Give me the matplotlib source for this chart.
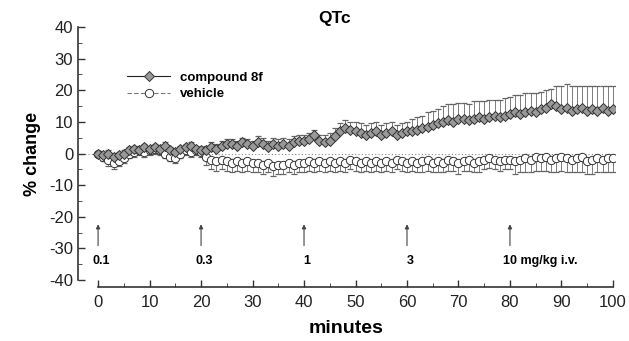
import numpy as np
import matplotlib.pyplot as plt

plt.rcParams['font.family'] = ['Liberation Sans', 'DejaVu Sans']
plt.rcParams['axes.unicode_minus'] = False

minutes = np.arange(0, 101)

# % change QTc, compound 8f (mean, upper SEM)
compound = [0,
            -0.5, 0, -1, -0.5, 0,
            1, 1.5, 1, 2, 1.5,
            2, 1.5, 2.5, 1, 0.5,
            1.5, 2, 2.5, 1.5, 1,
            1, 2, 1.5, 2.5, 3,
            3, 2.5, 3.5, 3, 2.5,
            3.5, 3, 2, 3, 2.5,
            3, 2.5, 3.5, 4, 4,
            4.5, 6, 4, 3.5, 4,
            5.5, 7, 8, 7.5, 7,
            6.5, 6, 6.5, 7, 6,
            6.5, 7, 6, 6.5, 7,
            7, 7.5, 8, 8.5, 9,
            9.5, 10, 10.5, 10, 11,
            11, 10.5, 11, 11.5, 11,
            11.5, 12, 11.5, 12, 12.5,
            13, 12.5, 13, 13.5, 13,
            14, 14.5, 15.5, 15, 14,
            14.5, 13.5, 14, 14.5, 13.5,
            14, 13.5, 14.5, 13.5, 14]
compound_sem = [0.5,
                1, 1, 1, 1, 1,
                1, 1, 1, 1, 1,
                1, 1, 1, 1, 1,
                1, 1, 1, 1, 1,
                1.5, 1.5, 1.5, 1.5, 1.5,
                1.5, 1.5, 1.5, 1.5, 1.5,
                2, 2, 2, 2, 2,
                2, 2, 2, 2, 2,
                2, 1.5, 2, 2.5, 2.5,
                2.5, 2.5, 2.5, 2.5, 3,
                3, 3, 3, 3, 3,
                3, 3, 3, 3, 3,
                4, 4, 4, 4.5, 4.5,
                4.5, 5, 5, 5.5, 5,
                5, 5, 5.5, 5, 5.5,
                5.5, 5, 5.5, 5.5, 5.5,
                5.5, 6, 6, 5.5, 6,
                5.5, 5.5, 5, 6.5, 7.5,
                7.5, 8, 7.5, 7, 8,
                7.5, 8, 7, 8, 7.5]

# % change QTc, vehicle (mean, lower SEM)
vehicle = [0,
           -1, -2, -3, -2.5, -1.5,
           0, 0.5, 1, 0.5, 1,
           1.5, 1, 0, -1, -1.5,
           0, 1, 0.5, 1, 0.5,
           -1, -2, -2.5, -2, -2.5,
           -3, -2.5, -3, -2.5, -3,
           -3, -3.5, -3, -4, -3.5,
           -3.5, -3, -3.5, -3, -3,
           -2.5, -3, -2.5, -3, -2.5,
           -3, -2.5, -3, -2, -2.5,
           -3, -2.5, -3, -2.5, -3,
           -2.5, -3, -2, -2.5, -3,
           -2.5, -3, -2.5, -2, -3,
           -2.5, -3, -2, -2.5, -3,
           -2.5, -2, -3, -2.5, -2,
           -1.5, -2, -2.5, -2, -2,
           -2.5, -2, -1.5, -2, -1,
           -1.5, -1, -2, -1.5, -1,
           -1.5, -2, -1.5, -1, -2.5,
           -2, -1.5, -2, -1.5, -1.5]
vehicle_sem = [0.5,
               1.5, 2, 2, 1.5, 1.5,
               1.5, 1.5, 1.5, 1.5, 1.5,
               1.5, 1.5, 1.5, 1.5, 1.5,
               1.5, 1.5, 1.5, 1.5, 1.5,
               2.5, 3, 3, 3, 3,
               3, 3, 3, 3, 3,
               3, 3, 3, 3, 3,
               3, 3, 3, 3, 3,
               3, 3, 3, 3, 3,
               3, 3, 3, 3, 3,
               3, 3, 3, 3, 3,
               3, 3, 3, 3, 3,
               3, 3, 3.5, 3.5, 3,
               3.5, 3, 3.5, 3, 3.5,
               3, 3.5, 3, 3.5, 3,
               3, 3, 3, 3, 3,
               4, 4, 4.5, 4, 4.5,
               4, 4.5, 4, 4.5, 4.5,
               4.5, 4, 4.5, 5, 4,
               4.5, 4.5, 4, 4.5, 4.5]

dose_times = [0, 20, 40, 60, 80]
dose_labels = ['0.1', '0.3', '1', '3', '10 mg/kg i.v.']

fig = plt.figure(figsize=(6.29, 3.41), dpi=100)
ax = fig.add_axes([78/629, 61/341, 537/629, 253/341])

zero = np.zeros(len(minutes))
ax.axhline(0, color='#888888', lw=0.8, ls=(0, (1, 2)), zorder=1)

ax.errorbar(minutes, compound, yerr=[zero, compound_sem], fmt='none',
            ecolor='#666666', elinewidth=0.6, capsize=2.2, capthick=0.9, zorder=2)
ax.errorbar(minutes, vehicle, yerr=[vehicle_sem, zero], fmt='none',
            ecolor='#666666', elinewidth=0.6, capsize=2.2, capthick=0.9, zorder=2)

ax.plot(minutes, compound, color='#222222', lw=0.8, marker='D', ms=5.5,
        mfc='#999999', mec='#333333', mew=0.7, label='compound 8f', zorder=4)
ax.plot(minutes, vehicle, color='#777777', lw=0.8, ls=(0, (4, 2)), marker='o', ms=6,
        mfc='white', mec='#333333', mew=0.7, label='vehicle', zorder=3)

for t, lab in zip(dose_times, dose_labels):
    ax.annotate('', xy=(t, -21.5), xytext=(t, -30),
                arrowprops=dict(arrowstyle='-|>', color='#444444', lw=0.8,
                                mutation_scale=6))
    if t == 80:
        ax.text(t - 1.3, -34, lab, ha='left', va='center', fontsize=9, fontweight='bold')
    else:
        ax.text(t + 0.6, -34, lab, ha='center', va='center', fontsize=9, fontweight='bold')

ax.set_xlim(-3.9, 100.4)
ax.set_ylim(-40, 40)
ax.set_xticks(range(0, 101, 10))
ax.set_xticks(range(5, 100, 10), minor=True)
ax.set_yticks(range(-40, 41, 10))
ax.set_yticks(range(-35, 40, 10), minor=True)
ax.tick_params(direction='in', labelsize=12, color='#333333', width=1, length=5,
               labelcolor='#222222')
ax.tick_params(which='minor', direction='in', length=3, color='#333333')
ax.tick_params(axis='x', pad=6)

for s in ['top', 'right']:
    ax.spines[s].set_visible(False)
ax.spines['bottom'].set_position(('outward', 5))
ax.spines['bottom'].set_bounds(0, 100)
ax.spines['left'].set_bounds(-40, 40)
for s in ['bottom', 'left']:
    ax.spines[s].set_color('#333333')
    ax.spines[s].set_linewidth(1.2)

ax.set_xlabel('minutes', fontsize=14, fontweight='bold', labelpad=7)
ax.set_ylabel('% change', fontsize=13, fontweight='bold', labelpad=6)
fig.text(335/629, 1 - 19/341, 'QTc', ha='center', va='center', fontsize=12.5, fontweight='bold')

ax.legend(loc='upper left', bbox_to_anchor=(0.07, 0.87), frameon=False,
          prop={'size': 9.5, 'weight': 'bold'}, handlelength=3.2, labelspacing=0.3,
          handletextpad=0.8)

fig.savefig('out.png', dpi=100)
